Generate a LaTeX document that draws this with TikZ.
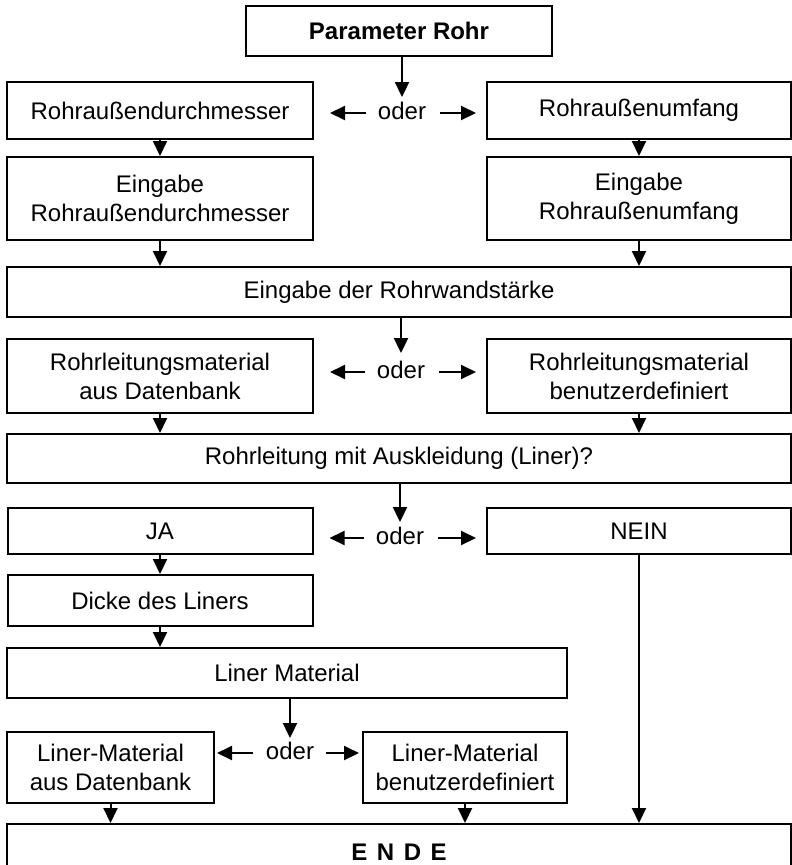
\documentclass[tikz,border=0pt]{standalone}
\usepackage{fontspec}
\setmainfont{Liberation Sans}
\usetikzlibrary{arrows.meta}
\begin{document}
\begin{tikzpicture}[x=1pt,y=-1pt,
  box/.style={draw, line width=2pt, inner sep=0pt, align=center, font=\fontsize{24}{29}\selectfont},
  lbl/.style={inner sep=0pt, text height=19pt, text depth=6.5pt, font=\fontsize{24}{29}\selectfont},
  arr/.style={line width=2pt, -{Triangle[length=15pt,width=14pt]}}]
\useasboundingbox (0,0) rectangle (792,865);
% boxes
\node[box, minimum width=306pt, minimum height=50pt, font=\fontsize{24}{29}\selectfont\bfseries] (top) at (399,31) {Parameter Rohr};
\node[box, minimum width=306pt, minimum height=57pt] (r1L) at (160,110.5) {Rohraußendurchmesser};
\node[box, minimum width=304pt, minimum height=57pt] (r1R) at (639,110.5) {Rohraußenumfang};
\node[box, minimum width=306pt, minimum height=83pt] (r2L) at (160,198.5) {Eingabe\\Rohraußendurchmesser};
\node[box, minimum width=304pt, minimum height=83pt] (r2R) at (639,198.5) {Eingabe\\Rohraußenumfang};
\node[box, minimum width=784pt, minimum height=50pt] (wand) at (399,292) {Eingabe der Rohrwandstärke};
\node[box, minimum width=306pt, minimum height=74pt] (r3L) at (160,376) {Rohrleitungsmaterial\\aus Datenbank};
\node[box, minimum width=304pt, minimum height=74pt] (r3R) at (639,376) {Rohrleitungsmaterial\\benutzerdefiniert};
\node[box, minimum width=784pt, minimum height=49pt] (lin) at (399,458.5) {Rohrleitung mit Auskleidung (Liner)?};
\node[box, minimum width=305pt, minimum height=46pt] (ja) at (160,531) {JA};
\node[box, minimum width=304pt, minimum height=46pt] (nein) at (639,531) {NEIN};
\node[box, minimum width=305pt, minimum height=51pt] (dicke) at (160,600.5) {Dicke des Liners};
\node[box, minimum width=560pt, minimum height=50pt] (lmat) at (287,673) {Liner Material};
\node[box, minimum width=207pt, minimum height=71pt] (lmL) at (110.5,767.5) {Liner-Material\\aus Datenbank};
\node[box, minimum width=204pt, minimum height=71pt] (lmR) at (465,767.5) {Liner-Material\\benutzerdefiniert};
\node[box, minimum width=784pt, minimum height=56pt, font=\fontsize{24}{29}\selectfont\bfseries] (ende) at (399,852) {E\hspace{0.4em}N\hspace{0.4em}D\hspace{0.4em}E};
% oder labels
\node[lbl] (o1) at (402,113) {oder};
\node[lbl] (o2) at (401,372) {oder};
\node[lbl] (o3) at (400,538) {oder};
\node[lbl] (o4) at (290,753) {oder};
% vertical connectors
\draw[arr] (r1L) -- (r2L);
\draw[arr] (r1R) -- (r2R);
\draw[arr] (r2L) -- (r2L |- wand.north);
\draw[arr] (r2R) -- (r2R |- wand.north);
\draw[arr] (r3L) -- (r3L |- lin.north);
\draw[arr] (r3R) -- (r3R |- lin.north);
\draw[arr] (ja) -- (dicke);
\draw[arr] (dicke) -- (dicke |- lmat.north);
\draw[arr] (lmL) -- (lmL |- ende.north);
\draw[arr] (lmR) -- (lmR |- ende.north);
\draw[arr] (nein) -- (nein |- ende.north);
% oder connectors
\draw[arr, shorten >=3pt] (o1.north |- top.south) -- (o1.north);
\draw[arr, shorten >=6pt] (o2.north |- wand.south) -- (o2.north);
\draw[arr, shorten >=3pt] (o3.north |- lin.south) -- (o3.north);
\draw[arr, shorten >=2pt] (o4.north |- lmat.south) -- (o4.north);
\foreach \o/\l/\r in {o1/r1L/r1R, o2/r3L/r3R, o3/ja/nein}{
  \draw[arr, shorten <=12pt, shorten >=16pt] (\o.west) -- (\o.west -| \l.east);
  \draw[arr, shorten <=14pt, shorten >=10pt] (\o.east) -- (\o.east -| \r.west);
}
\draw[arr, shorten <=13pt, shorten >=2pt] (o4.west) -- (o4.west -| lmL.east);
\draw[arr, shorten <=12pt, shorten >=3pt] (o4.east) -- (o4.east -| lmR.west);
\end{tikzpicture}
\end{document}
